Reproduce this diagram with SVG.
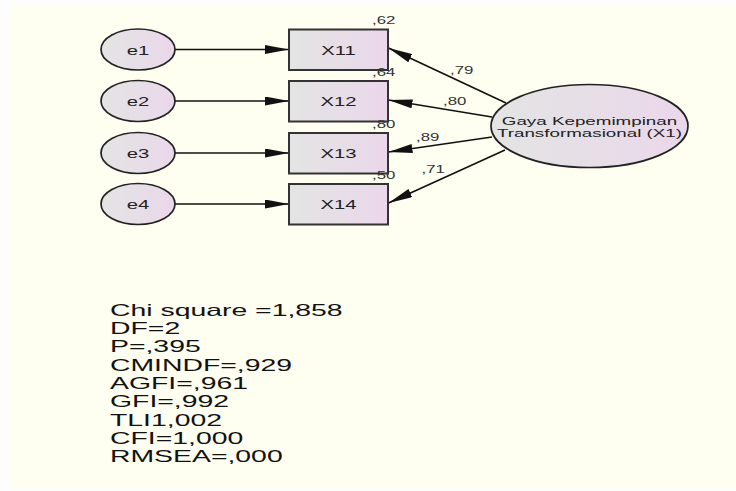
<svg xmlns="http://www.w3.org/2000/svg" width="736" height="491" viewBox="0 0 736 491">
<defs>
<linearGradient id="g" x1="0" y1="0" x2="1" y2="0">
<stop offset="0" stop-color="#e3e5e3"/>
<stop offset="1" stop-color="#ebd7eb"/>
</linearGradient>
<marker id="ah" viewBox="0 0 24 9" refX="24" refY="4.5" markerWidth="24" markerHeight="9" markerUnits="userSpaceOnUse" orient="auto">
<path d="M0,0 L24,4.5 L0,9 z" fill="#111"/>
</marker>
<style>
.n{fill:url(#g);stroke:#222;stroke-width:1.7}
.b{fill:url(#g);stroke:#333;stroke-width:2}
.t{font-family:"Liberation Sans",Arial,sans-serif;font-size:13.5px;fill:#222;text-anchor:middle}
.l{font-family:"Liberation Sans",Arial,sans-serif;font-size:10.5px;fill:#333}
.s{font-family:"Liberation Sans",Arial,sans-serif;font-size:16.5px;fill:#111}
.c{stroke:#111;stroke-width:1.6;fill:none;marker-end:url(#ah)}
</style>
</defs>
<rect width="736" height="491" fill="#fdfdfd"/>
<rect x="9" y="6" width="727" height="481" fill="#fefef1"/>
<g id="connectors">
<line class="c" x1="175" y1="49.5" x2="289" y2="49.5"/>
<line class="c" x1="175" y1="101" x2="289" y2="101"/>
<line class="c" x1="175" y1="153" x2="289" y2="153"/>
<line class="c" x1="175" y1="204" x2="289" y2="204"/>
<line class="c" x1="506" y1="103" x2="388.5" y2="48"/>
<line class="c" x1="492" y1="117" x2="388.5" y2="100"/>
<line class="c" x1="492" y1="137" x2="388.5" y2="152"/>
<line class="c" x1="505" y1="150" x2="388.5" y2="203"/>
<text class="l" transform="translate(450,73.5) scale(1.6,1)">,79</text>
<text class="l" transform="translate(443,105) scale(1.6,1)">,80</text>
<text class="l" transform="translate(416,140.5) scale(1.6,1)">,89</text>
<text class="l" transform="translate(421.5,173) scale(1.6,1)">,71</text>
</g>
<g id="e1"><ellipse class="n" cx="138" cy="49.5" rx="37" ry="20.5"/><text class="t" transform="translate(138,54.5) scale(1.5,1)">e1</text></g>
<g id="e2"><ellipse class="n" cx="138" cy="101" rx="37" ry="20.5"/><text class="t" transform="translate(138,106) scale(1.5,1)">e2</text></g>
<g id="e3"><ellipse class="n" cx="138" cy="153" rx="37" ry="20.5"/><text class="t" transform="translate(138,158) scale(1.5,1)">e3</text></g>
<g id="e4"><ellipse class="n" cx="138" cy="204" rx="37" ry="20.5"/><text class="t" transform="translate(138,209) scale(1.5,1)">e4</text></g>
<g id="X11"><rect class="b" x="289" y="29.5" width="99" height="40.5"/><text class="t" transform="translate(338.5,54.5) scale(1.5,1)">X11</text><text class="l" transform="translate(372,24) scale(1.6,1)">,62</text></g>
<g id="X12"><rect class="b" x="289" y="81" width="99" height="40.5"/><text class="t" transform="translate(338.5,106) scale(1.5,1)">X12</text><text class="l" transform="translate(372,76) scale(1.6,1)">,64</text></g>
<g id="X13"><rect class="b" x="289" y="133" width="99" height="40.5"/><text class="t" transform="translate(338.5,158) scale(1.5,1)">X13</text><text class="l" transform="translate(372,127.5) scale(1.6,1)">,80</text></g>
<g id="X14"><rect class="b" x="289" y="184" width="99" height="40.5"/><text class="t" transform="translate(338.5,209) scale(1.5,1)">X14</text><text class="l" transform="translate(372,179) scale(1.6,1)">,50</text></g>
<g id="X1"><ellipse class="n" cx="589.5" cy="126" rx="98.5" ry="41.5"/>
<text class="t" style="font-size:11.6px" transform="translate(589.5,125) scale(1.62,1)">Gaya Kepemimpinan</text>
<text class="t" style="font-size:11.6px" transform="translate(589.5,136.7) scale(1.62,1)">Transformasional (X1)</text></g>
<g id="stats" transform="translate(110,0) scale(1.72,1)">
<text class="s" x="0" y="316">Chi square =1,858</text>
<text class="s" x="0" y="334.3">DF=2</text>
<text class="s" x="0" y="352.5">P=,395</text>
<text class="s" x="0" y="370.8">CMINDF=,929</text>
<text class="s" x="0" y="389">AGFI=,961</text>
<text class="s" x="0" y="407.3">GFI=,992</text>
<text class="s" x="0" y="425.6">TLI1,002</text>
<text class="s" x="0" y="443.9">CFI=1,000</text>
<text class="s" x="0" y="462.1">RMSEA=,000</text>
</g>
</svg>
